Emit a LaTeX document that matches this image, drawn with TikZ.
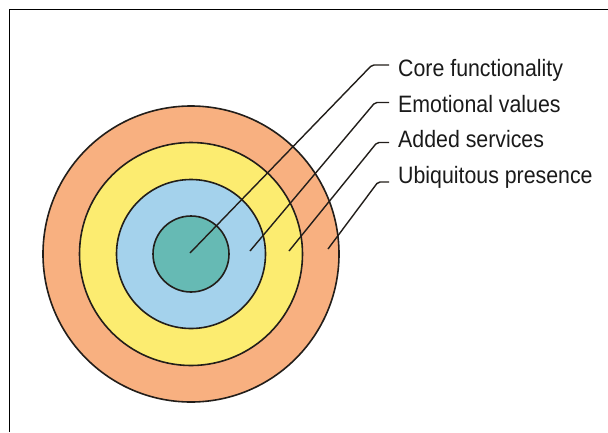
\documentclass[tikz,border=0pt]{standalone}
\usepackage{fontspec}
\setmainfont[FakeStretch=0.9]{Liberation Sans}
\definecolor{ringorange}{RGB}{248,176,128}
\definecolor{ringyellow}{RGB}{252,236,112}
\definecolor{ringblue}{RGB}{164,210,236}
\definecolor{ringteal}{RGB}{102,186,180}
\definecolor{edgedark}{RGB}{34,30,26}
\definecolor{textdark}{RGB}{26,26,26}
\begin{document}
\begin{tikzpicture}[x=1pt,y=-1pt,
  ring/.style={circle, draw=edgedark, line width=1.6pt, inner sep=0pt},
  leader/.style={draw=edgedark, line width=1.4pt, rounded corners=2pt},
  lbl/.style={anchor=base west, inner sep=0pt, text=textdark, font=\fontsize{23.7}{28}\selectfont}]
\useasboundingbox (0,0) rectangle (608,432);
\fill[white] (0,0) rectangle (608,432);
\draw[black, line width=1pt] (9.5,432) -- (9.5,9.5) -- (608,9.5);
\coordinate (c) at (191,254);
\node[ring, fill=ringorange, minimum size=296pt] (outer) at (c) {};
\node[ring, fill=ringyellow, minimum size=223pt] (yellow) at (c) {};
\node[ring, fill=ringblue, minimum size=149pt] (blue) at (c) {};
\node[ring, fill=ringteal, minimum size=76pt] (teal) at (c) {};
\coordinate (s1) at (190,253);
\coordinate (s2) at (250,251);
\coordinate (s3) at (289,251);
\coordinate (s4) at (328,249);
\coordinate (k1) at (372,65);
\coordinate (k2) at (375,102.5);
\coordinate (k3) at (377,142.5);
\coordinate (k4) at (378,182);
\coordinate (e1) at (389,65);
\coordinate (e2) at (389,102.5);
\coordinate (e3) at (389,142.5);
\coordinate (e4) at (389,182);
\node[lbl] (l1) at (398,76.5) {Core functionality};
\node[lbl] (l2) at (398,112.5) {Emotional values};
\node[lbl] (l3) at (398,147.5) {Added services};
\node[lbl] (l4) at (398,183) {Ubiquitous presence};
\draw[leader] (s1) -- (k1) -- (e1);
\draw[leader] (s2) -- (k2) -- (e2);
\draw[leader] (s3) -- (k3) -- (e3);
\draw[leader] (s4) -- (k4) -- (e4);
\end{tikzpicture}
\end{document}
